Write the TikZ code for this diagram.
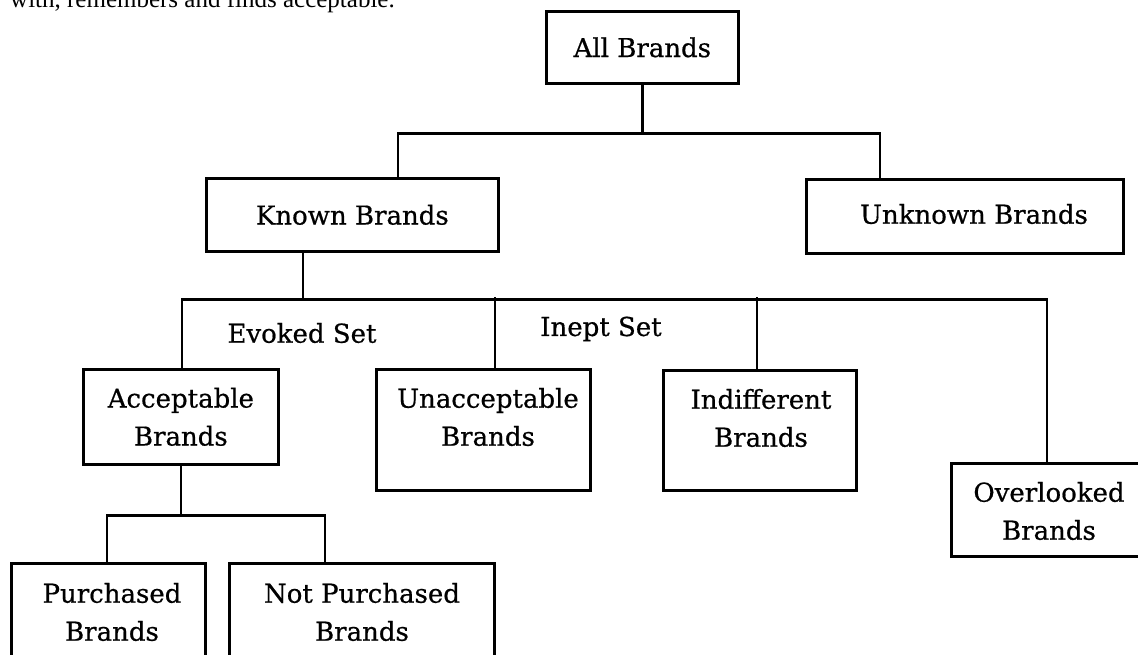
\documentclass[tikz,border=0pt]{standalone}
\usepackage{fontspec}
\setmainfont{DejaVu Serif}[FakeBold=0.6]
\newfontfamily\bodyfont{Liberation Serif}
\usetikzlibrary{calc}
\begin{document}
\begin{tikzpicture}[x=1pt,y=-1pt,
  box/.style={draw, line width=2.7pt, inner sep=0pt, anchor=north west, align=center,
              font=\fontsize{26}{38}\selectfont},
  lbl/.style={inner sep=0pt, align=center, font=\fontsize{26}{38}\selectfont},
  conn/.style={line width=2.5pt}]
\useasboundingbox (0,0) rectangle (1138,654);
\begin{scope}
\clip (0,0) rectangle (1138,654);
\node[anchor=base west, inner sep=0pt, font=\bodyfont\fontsize{25}{28}\selectfont] (cap) at (10,7) {with, remembers and finds acceptable.};
% boxes
\node[box, minimum width=192, minimum height=72] (all) at (545,10) {All Brands};
\node[box, minimum width=292, minimum height=73] (known) at (205,177) {Known Brands};
\node[box, minimum width=317, minimum height=74] (unknown) at (805,178) {};
\node[lbl] (unknowntxt) at (974,214) {Unknown Brands};
\node[box, minimum width=195, minimum height=95] (accept) at (82,368) {Acceptable\\Brands};
\node[box, minimum width=214, minimum height=121] (unacc) at (375,368) {};
\node[lbl] (unacctxt) at (488,417) {Unacceptable\\Brands};
\node[box, minimum width=193, minimum height=120] (indiff) at (662,369) {};
\node[lbl] (indifftxt) at (761,418) {Indifferent\\Brands};
\node[box, minimum width=205, minimum height=93] (over) at (950,462) {};
\node[lbl] (overtxt) at (1049,511) {Overlooked\\Brands};
\node[box, minimum width=194, minimum height=110] (purch) at (10,562) {};
\node[lbl] (purchtxt) at (112,612) {Purchased\\Brands};
\node[box, minimum width=265, minimum height=110] (notp) at (228,562) {};
\node[lbl] (notptxt) at (362,612) {Not Purchased\\Brands};
% labels
\node[lbl] (evoked) at (302,333) {Evoked Set};
\node[lbl] (inept) at (601,329) {Inept Set};
% connectors
\draw[conn] (all.south) -- ++(0,49) coordinate (jt);
\draw[conn] ($(known.north west)+(193,0)$) |- (jt) -| ($(unknown.north west)+(75,0)$);
\draw[conn] ($(known.south west)+(98,0)$) -- ++(0,47) coordinate (jm);
\draw[conn] ($(accept.north west)+(100,0)$) |- (jm) -| ($(over.north west)+(97,0)$);
\draw[conn] ($(unacc.north west)+(120,0)$) -- ++(0,-71);
\draw[conn] ($(indiff.north west)+(95,0)$) -- ++(0,-72);
\draw[conn] (accept.south) -- ++(0,50) coordinate (jb);
\draw[conn] ($(purch.north west)+(97,0)$) |- (jb) -| ($(notp.north west)+(97,0)$);
\end{scope}
\end{tikzpicture}
\end{document}
